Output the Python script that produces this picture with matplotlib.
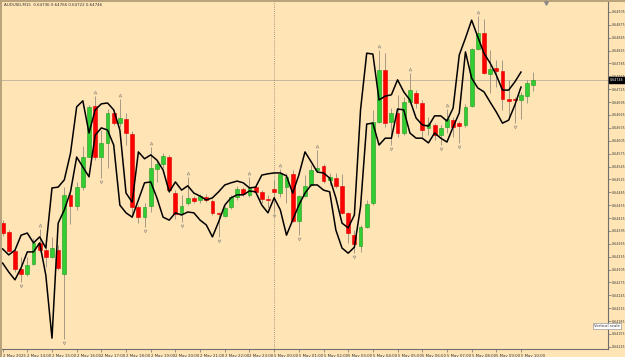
import numpy as np
import matplotlib.pyplot as plt
import matplotlib.transforms as mtransforms

# AUDUSD M15 candles, 2 May 13:00 -> 5 May 10:30
opens = [0.64413, 0.64392, 0.64348, 0.64306, 0.64295, 0.64318, 0.64367, 0.64350, 0.64334, 0.64350,
         0.64295, 0.64479, 0.64453, 0.64497, 0.64567, 0.64686, 0.64567, 0.64600, 0.64670, 0.64646,
         0.64656, 0.64621, 0.64451, 0.64427, 0.64453, 0.64539, 0.64551, 0.64567, 0.64483, 0.64437,
         0.64460, 0.64472, 0.64467, 0.64474, 0.64465, 0.64437, 0.64430, 0.64451, 0.64474, 0.64493,
         0.64479, 0.64497, 0.64486, 0.64469, 0.64493, 0.64483, 0.64497, 0.64528, 0.64418, 0.64476,
         0.64502, 0.64537, 0.64546, 0.64514, 0.64518, 0.64500, 0.64437, 0.64385, 0.64360, 0.64404,
         0.64460, 0.64649, 0.64770, 0.64649, 0.64670, 0.64623, 0.64695, 0.64716, 0.64693, 0.64635,
         0.64642, 0.64618, 0.64637, 0.64653, 0.64646, 0.64642, 0.64686, 0.64819, 0.64856, 0.64761,
         0.64775, 0.64768, 0.64702, 0.64702, 0.64700, 0.64709, 0.64736]
highs = [0.64420, 0.64397, 0.64355, 0.64334, 0.64334, 0.64378, 0.64399, 0.64367, 0.64381, 0.64362,
         0.64497, 0.64486, 0.64509, 0.64593, 0.64688, 0.64709, 0.64630, 0.64679, 0.64677, 0.64702,
         0.64670, 0.64628, 0.64455, 0.64460, 0.64590, 0.64560, 0.64576, 0.64572, 0.64490, 0.64479,
         0.64521, 0.64476, 0.64481, 0.64481, 0.64469, 0.64439, 0.64453, 0.64479, 0.64500, 0.64497,
         0.64521, 0.64502, 0.64490, 0.64479, 0.64514, 0.64539, 0.64530, 0.64537, 0.64479, 0.64525,
         0.64549, 0.64583, 0.64551, 0.64530, 0.64530, 0.64528, 0.64439, 0.64397, 0.64409, 0.64467,
         0.64677, 0.64816, 0.64809, 0.64681, 0.64712, 0.64707, 0.64763, 0.64723, 0.64700, 0.64660,
         0.64646, 0.64642, 0.64679, 0.64660, 0.64651, 0.64691, 0.64821, 0.64896, 0.64889, 0.64816,
         0.64793, 0.64793, 0.64747, 0.64707, 0.64719, 0.64747, 0.64766]
lows = [0.64383, 0.64346, 0.64299, 0.64276, 0.64290, 0.64316, 0.64346, 0.64311, 0.64332, 0.64304,
        0.64143, 0.64411, 0.64444, 0.64490, 0.64567, 0.64560, 0.64518, 0.64542, 0.64642, 0.64637,
        0.64595, 0.64432, 0.64413, 0.64404, 0.64439, 0.64509, 0.64542, 0.64486, 0.64423, 0.64416,
        0.64455, 0.64460, 0.64460, 0.64462, 0.64432, 0.64381, 0.64427, 0.64446, 0.64467, 0.64476,
        0.64474, 0.64481, 0.64460, 0.64448, 0.64439, 0.64474, 0.64460, 0.64416, 0.64385, 0.64474,
        0.64500, 0.64532, 0.64507, 0.64502, 0.64495, 0.64434, 0.64367, 0.64343, 0.64346, 0.64402,
        0.64455, 0.64646, 0.64637, 0.64595, 0.64614, 0.64618, 0.64691, 0.64681, 0.64614, 0.64618,
        0.64607, 0.64595, 0.64623, 0.64614, 0.64600, 0.64637, 0.64684, 0.64816, 0.64761, 0.64716,
        0.64730, 0.64677, 0.64660, 0.64646, 0.64656, 0.64693, 0.64722]
closes = [0.64390, 0.64348, 0.64306, 0.64295, 0.64316, 0.64367, 0.64350, 0.64334, 0.64355, 0.64309,
          0.64479, 0.64453, 0.64497, 0.64567, 0.64684, 0.64567, 0.64600, 0.64670, 0.64646, 0.64658,
          0.64623, 0.64451, 0.64427, 0.64451, 0.64542, 0.64551, 0.64570, 0.64490, 0.64434, 0.64453,
          0.64472, 0.64465, 0.64476, 0.64467, 0.64437, 0.64434, 0.64448, 0.64474, 0.64493, 0.64481,
          0.64495, 0.64486, 0.64469, 0.64467, 0.64486, 0.64528, 0.64521, 0.64418, 0.64476, 0.64500,
          0.64537, 0.64542, 0.64511, 0.64521, 0.64500, 0.64437, 0.64390, 0.64364, 0.64404, 0.64458,
          0.64649, 0.64770, 0.64646, 0.64670, 0.64623, 0.64695, 0.64723, 0.64693, 0.64630, 0.64644,
          0.64618, 0.64635, 0.64656, 0.64637, 0.64639, 0.64684, 0.64819, 0.64856, 0.64763, 0.64772,
          0.64768, 0.64702, 0.64698, 0.64700, 0.64712, 0.64740, 0.64746]

# the two black indicator lines (stop 2 bars before the end)
upper_line = [0.64353, 0.64339, 0.64350, 0.64385, 0.64390, 0.64367, 0.64381, 0.64355, 0.64495, 0.64497,
              0.64514, 0.64576, 0.64684, 0.64698, 0.64623, 0.64677, 0.64691, 0.64693, 0.64677, 0.64630,
              0.64483, 0.64462, 0.64579, 0.64563, 0.64572, 0.64560, 0.64537, 0.64486, 0.64509, 0.64490,
              0.64500, 0.64483, 0.64476, 0.64467, 0.64472, 0.64486, 0.64502, 0.64507, 0.64511, 0.64507,
              0.64495, 0.64497, 0.64525, 0.64528, 0.64530, 0.64530, 0.64523, 0.64483, 0.64525, 0.64579,
              0.64556, 0.64532, 0.64530, 0.64518, 0.64472, 0.64413, 0.64402, 0.64432, 0.64677, 0.64809,
              0.64807, 0.64700, 0.64709, 0.64712, 0.64747, 0.64719, 0.64700, 0.64658, 0.64642, 0.64639,
              0.64663, 0.64663, 0.64651, 0.64681, 0.64805, 0.64844, 0.64886, 0.64847, 0.64809, 0.64786,
              0.64758, 0.64723, 0.64723, 0.64742, 0.64765]
lower_line = [0.64320, 0.64299, 0.64281, 0.64309, 0.64346, 0.64346, 0.64367, 0.64292, 0.64145, 0.64413,
              0.64444, 0.64486, 0.64567, 0.64544, 0.64521, 0.64618, 0.64635, 0.64630, 0.64595, 0.64455,
              0.64437, 0.64427, 0.64467, 0.64507, 0.64509, 0.64472, 0.64427, 0.64420, 0.64437, 0.64432,
              0.64439, 0.64437, 0.64420, 0.64409, 0.64381, 0.64416, 0.64455, 0.64472, 0.64479, 0.64479,
              0.64488, 0.64486, 0.64455, 0.64437, 0.64472, 0.64444, 0.64385, 0.64420, 0.64455, 0.64483,
              0.64502, 0.64502, 0.64490, 0.64486, 0.64397, 0.64355, 0.64343, 0.64357, 0.64451, 0.64644,
              0.64646, 0.64595, 0.64611, 0.64611, 0.64679, 0.64677, 0.64623, 0.64611, 0.64611, 0.64600,
              0.64623, 0.64611, 0.64602, 0.64637, 0.64670, 0.64812, 0.64751, 0.64728, 0.64719, 0.64695,
              0.64672, 0.64646, 0.64653, 0.64688, 0.64730]

fractal_up = [6, 15, 19, 24, 30, 40, 45, 51, 61, 66, 72, 77]
fractal_down = [3, 10, 16, 23, 29, 35, 44, 48, 57, 63, 71, 74, 83]

price_ticks = [0.64905, 0.64875, 0.64845, 0.64815, 0.64785, 0.64755, 0.64725, 0.64695, 0.64665,
               0.64635, 0.64605, 0.64575, 0.64545, 0.64515, 0.64485, 0.64455, 0.64425, 0.64395,
               0.64365, 0.64335, 0.64305, 0.64275, 0.64245, 0.64215, 0.64185, 0.64155, 0.64125]
time_labels = ['2 May 2025', '2 May 14:00', '2 May 15:00', '2 May 16:00', '2 May 17:00', '2 May 18:00',
               '2 May 19:00', '2 May 20:00', '2 May 21:00', '2 May 22:00', '2 May 23:00',
               '5 May 00:00', '5 May 01:00', '5 May 02:00', '5 May 03:00', '5 May 04:00', '5 May 05:00',
               '5 May 06:00', '5 May 07:00', '5 May 08:00', '5 May 09:00', '5 May 10:00']
last_price = 0.64746
day_start = 44

bg = '#FFE4B5'
fs = 2.8
fsy = 2.3
fig = plt.figure(figsize=(6.25, 3.57), dpi=100, facecolor=bg)
ax = fig.add_axes([2 / 625, 8 / 357, 606 / 625, 348 / 357])
ax.set_facecolor(bg)

o = np.array(opens)
h = np.array(highs)
l = np.array(lows)
c = np.array(closes)
x = np.arange(len(o))
up = c >= o
dn = ~up

ax.axhline(last_price, color='#c4b8a0', lw=0.7, zorder=1)
ax.axvline(day_start, color='#8a8070', lw=0.6, ls=(0, (1, 1.5)), zorder=1)

ax.vlines(x, l, h, color='#968d7c', lw=0.6, zorder=2)
ax.bar(x[up], (c - o)[up], bottom=o[up], width=0.62, color='#32CD32', edgecolor='#229922', lw=0.4, zorder=3)
ax.bar(x[dn], (c - o)[dn], bottom=o[dn], width=0.62, color='#FF0000', edgecolor='#dd0000', lw=0.4, zorder=3)

xl = np.arange(len(upper_line))
ax.plot(xl, upper_line, color='black', lw=1.1, zorder=4)
ax.plot(xl, lower_line, color='black', lw=1.1, zorder=4)

fu = np.array(fractal_up)
fd = np.array(fractal_down)
ax.plot(fu, h[fu] + 0.0001, ls='none', marker='^', ms=2.0, mfc='none', mec='#a09888', mew=0.5, zorder=5)
ax.plot(fd, l[fd] - 0.0001, ls='none', marker='v', ms=2.0, mfc='none', mec='#a09888', mew=0.5, zorder=5)

ax.set_xlim(-0.1, 98.1)
ax.set_ylim(0.641198, 0.649306)

ax.yaxis.tick_right()
ax.set_yticks(price_ticks)
ax.set_yticklabels(['%.5f' % v for v in price_ticks], fontsize=fsy, color='#3a3a3a')
ax.tick_params(axis='y', length=2, width=0.5, pad=0.6, color='#6e6e6e')
ax.set_xticks(range(0, 4 * len(time_labels), 4))
ax.set_xticklabels(time_labels, fontsize=fs, color='#3a3a3a', ha='left')
ax.tick_params(axis='x', length=2.5, width=0.5, pad=0.8, color='#6e6e6e')

for s in ['left', 'top']:
    ax.spines[s].set_visible(False)
for s in ['right', 'bottom']:
    ax.spines[s].set_color('#6e6e6e')
    ax.spines[s].set_linewidth(0.8)

trans = mtransforms.blended_transform_factory(ax.transAxes, ax.transData)
ax.text(1.003, last_price, '%.5f' % last_price, transform=trans, ha='left', va='center',
        fontsize=fsy, color='white', zorder=10, clip_on=False,
        bbox=dict(boxstyle='square,pad=0.35', fc='black', ec='black'))

# window border and decorations
fig.add_artist(plt.Line2D([0.8 / 625, 0.8 / 625], [0, 1], transform=fig.transFigure, color='#b8a27c', lw=1.4))
fig.add_artist(plt.Line2D([0, 1], [1 - 0.6 / 357, 1 - 0.6 / 357], transform=fig.transFigure, color='#b8a27c', lw=1.4))
fig.text(4 / 625, 1 - 5 / 357, 'AUDUSD,M15  0.64736 0.64766 0.64722 0.64746', fontsize=2.9,
         color='#333333', va='center')
fig.text(594 / 625, 1 - 326 / 357, 'Vertical scale', fontsize=fs, color='#333333', va='center',
         bbox=dict(boxstyle='square,pad=0.3', fc='white', ec='#9a9a9a', lw=0.5))
fig.add_artist(plt.Line2D([546 / 625], [1 - 2.5 / 357], transform=fig.transFigure, marker='v',
                          ms=2.5, color='#8a8a8a', ls='none'))

fig.savefig('out.png', dpi=100, facecolor=bg)
